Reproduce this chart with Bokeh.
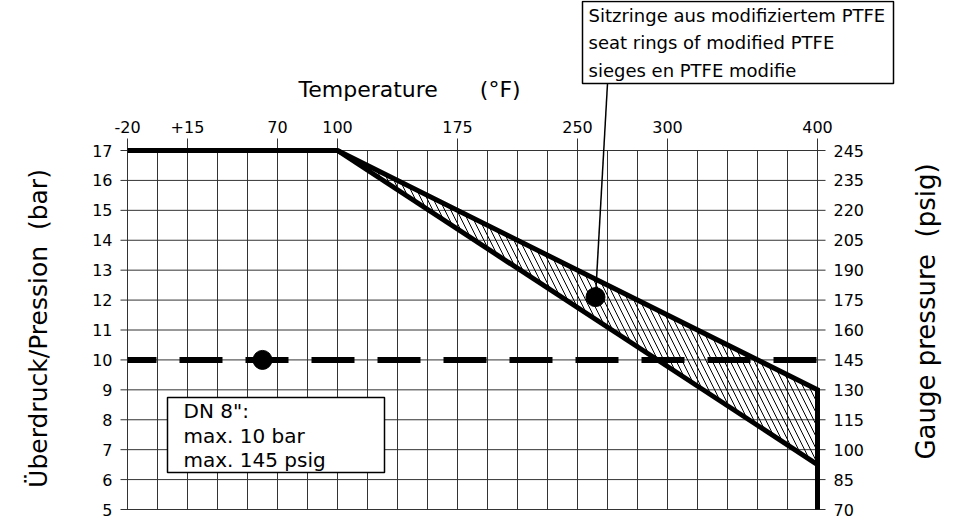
import math
from bokeh.plotting import figure
from bokeh.models import Range1d
from bokeh.core.properties import value
from bokeh.embed import file_html
from bokeh.resources import INLINE

# ---------------- data ----------------
grid_temp = list(range(-30, 201, 10))          # drawing grid (°C steps)
top_tick_pos = [-30, -10, 20, 40, 80, 120, 150, 200]
top_tick_lbl = ["-20", "+15", "70", "100", "175", "250", "300", "400"]   # °F
bar_ticks = list(range(5, 18))
bar_lbl = [str(b) for b in bar_ticks]
psig_lbl = ["70", "85", "100", "115", "130", "145", "160", "175",
            "190", "205", "220", "235", "245"]
outer_t = [-30, 40, 200, 200]
outer_p = [17, 17, 9, 5]
lower_t = [40, 200]
lower_p = [17, 6.5]
band_t = [40, 200, 200]
band_p = [17, 9, 6.5]
limit_t = [-30, 200]
limit_p = [10, 10]
point_t = [15, 126]
point_p = [10, 12.1]
ptfe_lines = ["Sitzringe aus modifiziertem PTFE", "seat rings of modified PTFE",
              "sieges en PTFE modifie"]
dn_lines = ["DN 8\":", "max. 10 bar", "max. 145 psig"]
x_title = "Temperature" + "\u00a0" * 6 + "(°F)"
y_title_left = "Überdruck/Pression \u00a0(bar)"
y_title_right = "Gauge pressure \u00a0(psig)"

FONT = value("DejaVu Sans")

# ---------------- scale helpers (layout in screen pixels) ----------------
PPX = 3.0            # px per grid unit (x)
PPY = 359 / 12       # px per bar (y)
def X(px):
    return grid_temp[0] + (px - 127) / PPX
def Y(py):
    return bar_ticks[-1] - (py - 150) / PPY

W, H = 955, 523
p = figure(width=W, height=H,
           x_range=Range1d(X(0), X(W)), y_range=Range1d(Y(H), Y(0)),
           output_backend="svg", toolbar_location=None, title=None,
           x_axis_location=None, y_axis_location=None, min_border=0)
p.grid.visible = False
p.outline_line_color = None
p.background_fill_color = "white"
p.border_fill_color = "white"

xmin, xmax = grid_temp[0], grid_temp[-1]
ymin, ymax = bar_ticks[0], bar_ticks[-1]
GRID = "#333333"

# vertical grid
n = len(grid_temp)
p.segment(x0=grid_temp, y0=[ymin] * n, x1=grid_temp, y1=[ymax] * n,
          line_color=GRID, line_width=1)
# horizontal grid + left/right ticks
m = len(bar_ticks)
p.segment(x0=[xmin - 7 / PPX] * m, y0=bar_ticks, x1=[xmax + 8 / PPX] * m, y1=bar_ticks,
          line_color=GRID, line_width=1)
# top ticks
k = len(top_tick_pos)
p.segment(x0=top_tick_pos, y0=[ymax] * k, x1=top_tick_pos, y1=[ymax + 12 / PPY] * k,
          line_color=GRID, line_width=1)

# tick labels
p.text(x=top_tick_pos, y=[ymax + 23.5 / PPY] * k, text=top_tick_lbl,
       text_align="center", text_baseline="middle",
       text_font=FONT, text_font_size="16px", text_color="black")
p.text(x=[xmin - 15 / PPX] * m, y=bar_ticks, text=bar_lbl,
       text_align="right", text_baseline="middle",
       text_font=FONT, text_font_size="16px", text_color="black")
p.text(x=[xmax + 16 / PPX] * m, y=bar_ticks, text=psig_lbl,
       text_align="left", text_baseline="middle",
       text_font=FONT, text_font_size="16px", text_color="black")

# axis titles
p.text(x=[X(298)], y=[Y(89)], text=[x_title], text_align="left", text_baseline="middle",
       text_font=FONT, text_font_size="22px", text_color="black")
p.text(x=[X(38)], y=[Y(328)], text=[y_title_left], angle=math.pi / 2,
       text_align="center", text_baseline="middle",
       text_font=FONT, text_font_size="25px", text_color="black")
p.text(x=[X(925)], y=[Y(311)], text=[y_title_right], angle=math.pi / 2,
       text_align="center", text_baseline="middle",
       text_font=FONT, text_font_size="26px", text_color="black")

# hatched band
p.patch(band_t, band_p, fill_alpha=0, line_color=None,
        hatch_pattern="\\", hatch_scale=12, hatch_weight=1, hatch_color="black")

# limit dashed line
p.line(limit_t, limit_p, line_width=6, line_color="black",
       line_dash="43 23", line_dash_offset=14)

# boundaries
p.line(outer_t, outer_p, line_width=5, line_color="black", line_join="miter")
p.line(lower_t, lower_p, line_width=5, line_color="black")

# leader line of the annotation box
p.segment(x0=[X(607)], y0=[Y(83)], x1=[point_t[1]], y1=[point_p[1]],
          line_color="black", line_width=1.5)

p.scatter(point_t, point_p, size=19, color="black")

# annotation box PTFE
p.quad(left=[X(582)], right=[X(893)], top=[Y(1)], bottom=[Y(83)],
       fill_color="white", line_color="black", line_width=1.5)
p.text(x=[X(588)] * 3, y=[Y(14.5), Y(42), Y(69.5)], text=ptfe_lines,
       text_align="left", text_baseline="middle",
       text_font=FONT, text_font_size="18px", text_color="black")

# DN box
p.quad(left=[X(167)], right=[X(384)], top=[Y(397)], bottom=[Y(472)],
       fill_color="white", line_color="black", line_width=1.5)
p.text(x=[X(183)] * 3, y=[Y(410), Y(435), Y(459)], text=dn_lines,
       text_align="left", text_baseline="middle",
       text_font=FONT, text_font_size="20px", text_color="black")

open("out.html", "w").write(file_html(p, INLINE))
